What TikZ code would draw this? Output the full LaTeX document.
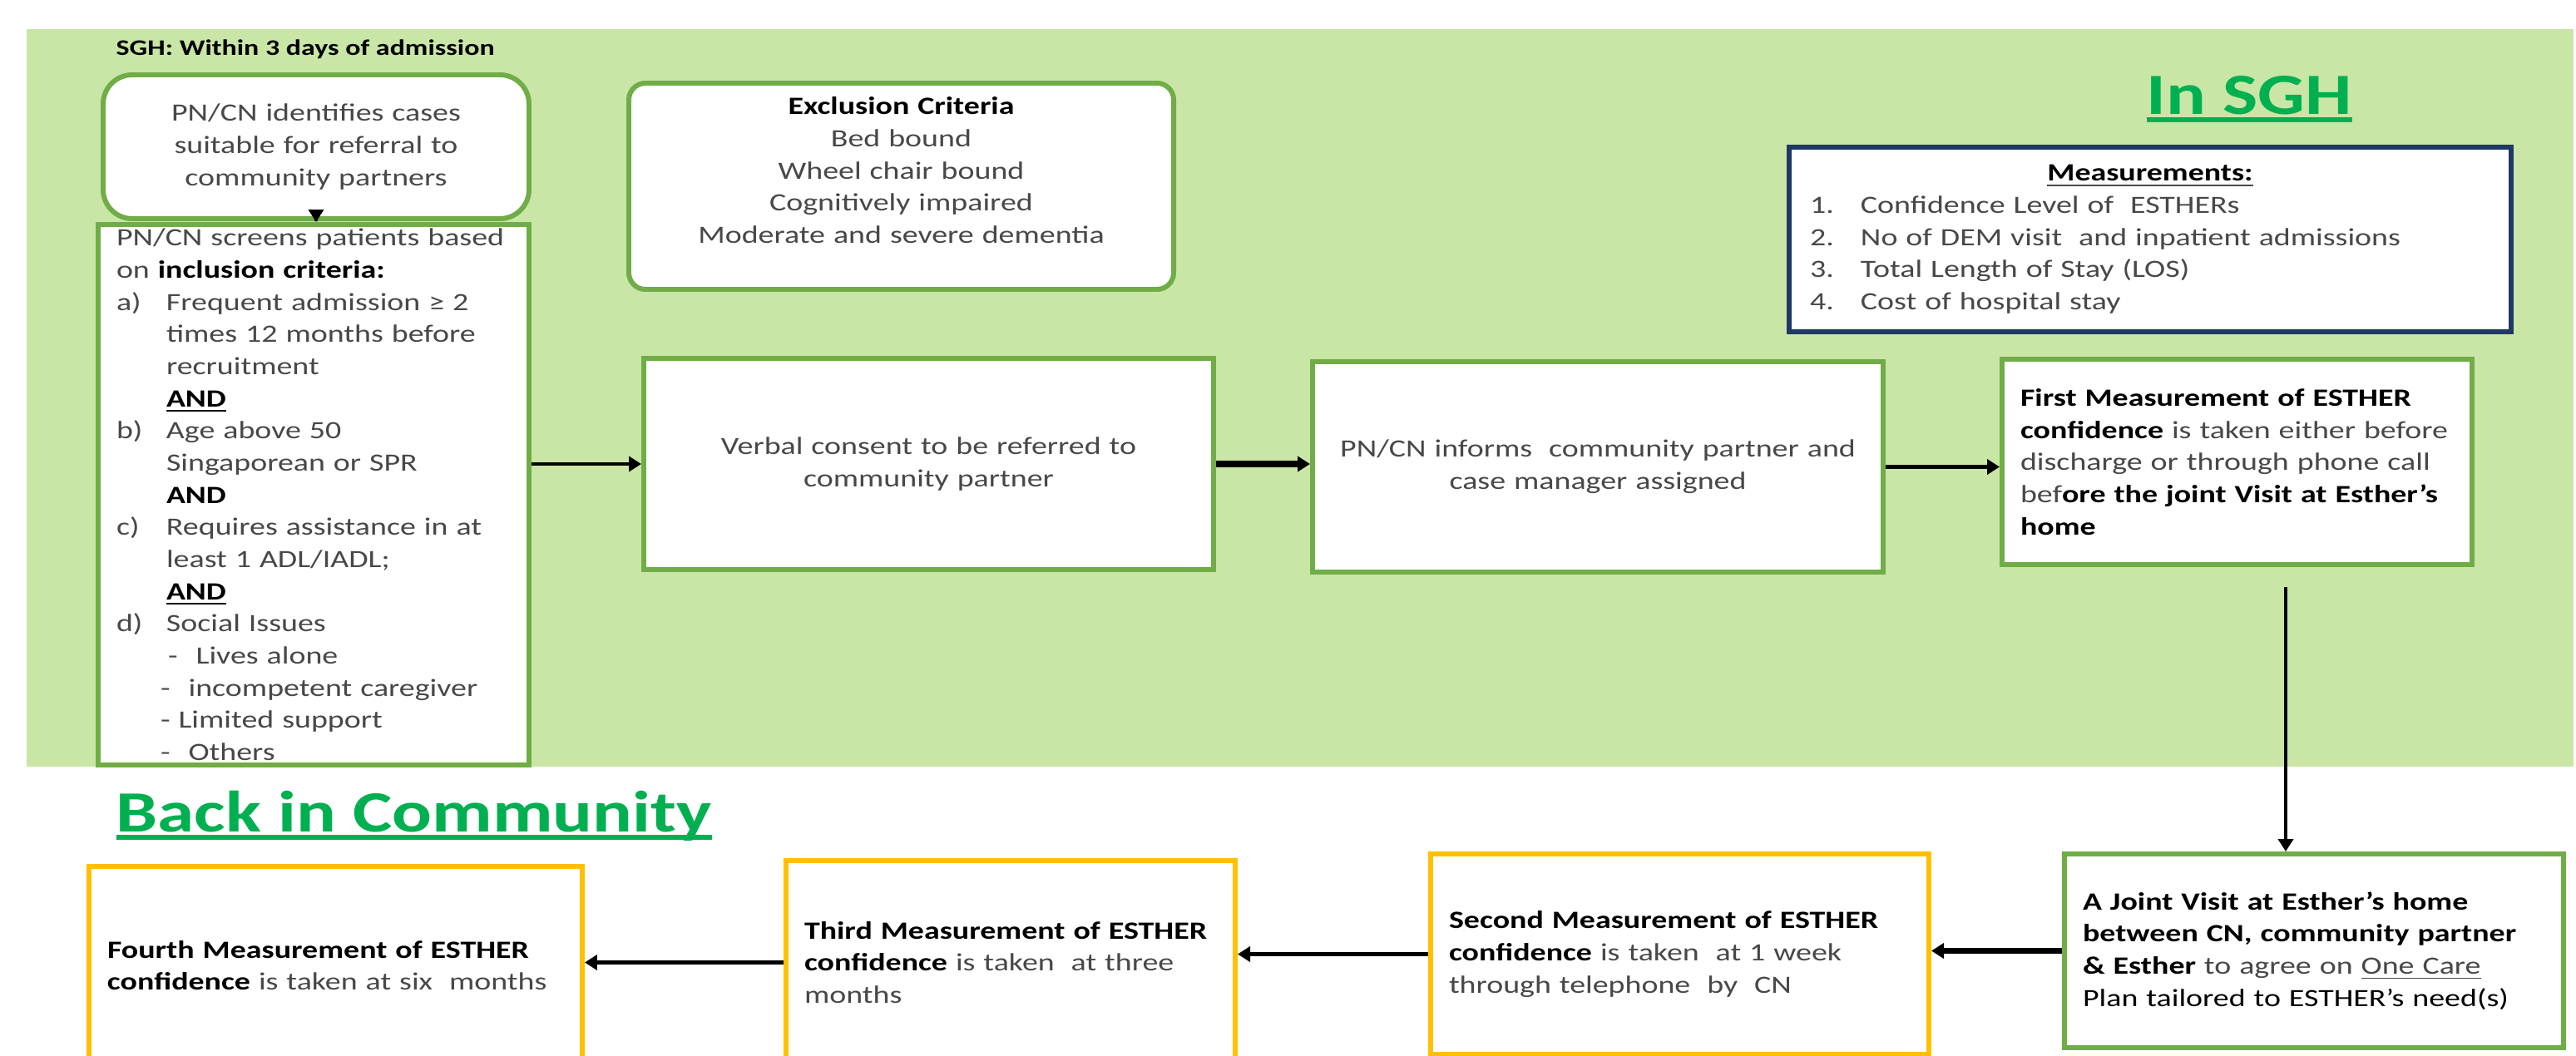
\documentclass[tikz,border=0pt]{standalone}
\usepackage{fontspec}
\setmainfont{Carlito}[FakeStretch=1.27]
\usetikzlibrary{arrows.meta}

\definecolor{sghgreen}{RGB}{201,230,166}
\definecolor{boxgreen}{RGB}{112,173,71}
\definecolor{boxyellow}{RGB}{255,192,0}
\definecolor{boxblue}{RGB}{31,56,100}
\definecolor{headgreen}{RGB}{0,176,80}
\definecolor{txt}{RGB}{72,72,72}

\newcommand{\bt}[1]{{\bfseries\color{black}#1}}
\newcommand{\thickul}[1]{\leavevmode\setbox0\hbox{#1}\rlap{\rule[-2.8pt]{\wd0}{1.6pt}}\box0}

\begin{document}
\begin{tikzpicture}[
    every node/.style={font=\fontsize{8.5}{11}\selectfont, text=txt},
    gbox/.style={draw=boxgreen, line width=1.7pt, fill=white, inner xsep=0.22cm, inner ysep=0.1cm},
    ybox/.style={gbox, draw=boxyellow},
    mbox/.style={gbox, draw=boxblue, inner xsep=0.25cm},
    heading/.style={font=\fontsize{20}{24}\selectfont\bfseries, text=headgreen, inner sep=0pt},
    arr/.style={-{Triangle[length=0.15cm,width=0.18cm]}, line width=1.3pt, black}]

    % Page and the hospital area
    \useasboundingbox (0,0) rectangle (30.97,-12.70);
    \fill[sghgreen] (0.32,-0.35) rectangle (30.94,-9.22);

    % Headings
    \node[anchor=base west, inner sep=0pt, font=\fontsize{7.6}{10}\selectfont\bfseries, text=black] (when) at (1.39,-0.66) {SGH: Within 3 days of admission};
    \node[heading, anchor=base west] (insgh) at (25.80,-1.37) {\thickul{In SGH}};
    \node[heading, anchor=base west] (back) at (1.39,-10.00) {\thickul{Back in Community}};

    % Steps in SGH
    \node[gbox, rounded corners=0.35cm, minimum width=5.12cm, minimum height=1.73cm, text width=4.68cm, align=center] (ident) at (3.80,-1.765)
        {PN/CN identifies cases\\suitable for referral to\\community partners};
    \node[gbox, rounded corners=0.2cm, minimum width=6.55cm, minimum height=2.48cm, text width=6.11cm, align=center] (excl) at (10.835,-2.24)
        {\bt{Exclusion Criteria}\\Bed bound\\Wheel chair bound\\Cognitively impaired\\Moderate and severe dementia\\\mbox{}};
    \node[gbox, inner ysep=0pt, minimum width=5.18cm, minimum height=6.5cm, text width=4.74cm, align=left] (screen) at (3.77,-5.95)
        {PN/CN screens patients based\\
        on \bt{inclusion criteria:}\\
        \makebox[0.6cm][l]{a)}Frequent admission ≥ 2\\
        \hspace*{0.6cm}times 12 months before\\
        \hspace*{0.6cm}recruitment\\
        \hspace*{0.6cm}\bt{\underline{AND}}\\
        \makebox[0.6cm][l]{b)}Age above 50\\
        \hspace*{0.6cm}Singaporean or SPR\\
        \hspace*{0.6cm}\bt{AND}\\
        \makebox[0.6cm][l]{c)}Requires assistance in at\\
        \hspace*{0.6cm}least 1 ADL/IADL;\\
        \hspace*{0.6cm}\bt{\underline{AND}}\\
        \makebox[0.6cm][l]{d)}Social Issues\\
        \hspace*{0.62cm}-\hspace{0.22cm}Lives alone\\
        \hspace*{0.53cm}-\hspace{0.22cm}incompetent caregiver\\
        \hspace*{0.53cm}- Limited support\\
        \hspace*{0.53cm}-\hspace{0.22cm}Others};
    \node[gbox, minimum width=6.85cm, minimum height=2.54cm, text width=6.41cm, align=center] (consent) at (11.165,-5.58)
        {Verbal consent to be referred to\\community partner};
    \node[gbox, minimum width=6.86cm, minimum height=2.53cm, text width=6.42cm, align=center] (inform) at (19.21,-5.615)
        {PN/CN informs\ \ community partner and\\case manager assigned};
    \node[mbox, minimum width=8.68cm, minimum height=2.22cm, text width=8.18cm, align=left] (meas) at (25.85,-2.88)
        {\mbox{}\hfill\underline{\bt{Measurements:}}\hfill\mbox{}\\
        \makebox[0.61cm][l]{1.}Confidence Level of\ \ ESTHERs\\
        \makebox[0.61cm][l]{2.}No of DEM visit\ \ and inpatient admissions\\
        \makebox[0.61cm][l]{3.}Total Length of Stay (LOS)\\
        \makebox[0.61cm][l]{4.}Cost of hospital stay};
    \node[gbox, minimum width=5.65cm, minimum height=2.47cm, text width=5.21cm, align=left] (first) at (26.895,-5.555)
        {\bt{First Measurement of ESTHER}\\
        \bt{confidence} is taken either before\\
        discharge or through phone call\\
        bef\bt{ore the joint Visit at Esther’s}\\
        \bt{home}};

    % Steps back in the community
    \node[gbox, minimum width=6.0cm, minimum height=2.33cm, text width=5.56cm, align=left] (visit) at (27.82,-11.435)
        {\bt{A Joint Visit at Esther’s home}\\
        \bt{between CN, community partner}\\
        \bt{\& Esther} to agree on \underline{One Care}\\
        {\color{black}Plan tailored to ESTHER’s need(s)}};
    \node[ybox, minimum width=5.99cm, minimum height=2.41cm, text width=5.55cm, align=left] (second) at (20.195,-11.475)
        {\bt{Second Measurement of ESTHER}\\
        \bt{confidence} is taken\ \ at 1 week\\
        through telephone\ \ by\ \ CN};
    \node[ybox, minimum width=5.40cm, minimum height=2.45cm, text width=4.96cm, align=left] (third) at (12.15,-11.575)
        {\bt{Third Measurement of ESTHER}\\
        \bt{confidence} is taken\ \ at three\\
        months};
    \node[ybox, minimum width=5.93cm, minimum height=2.38cm, text width=5.49cm, align=left] (fourth) at (4.035,-11.61)
        {\bt{Fourth Measurement of ESTHER}\\
        \bt{confidence} is taken at six\ \ months};

    % Arrows
    \draw[arr] (ident.south) -- (ident.south |- screen.north);
    \draw[arr] (screen.east |- consent.west) -- (consent.west);
    \draw[arr, line width=2.2pt] (consent.east) -- (consent.east -| inform.west);
    \draw[arr] (inform.east) -- (inform.east -| first.west);
    \coordinate (drop) at (27.48,-7.06);
    \draw[arr] (drop) -- (drop |- visit.north);
    \draw[arr, line width=2.2pt] (visit.west) -- (visit.west -| second.east);
    \draw[arr] (second.west) -- (second.west -| third.east);
    \draw[arr] (third.west) -- (third.west -| fourth.east);
\end{tikzpicture}
\end{document}
